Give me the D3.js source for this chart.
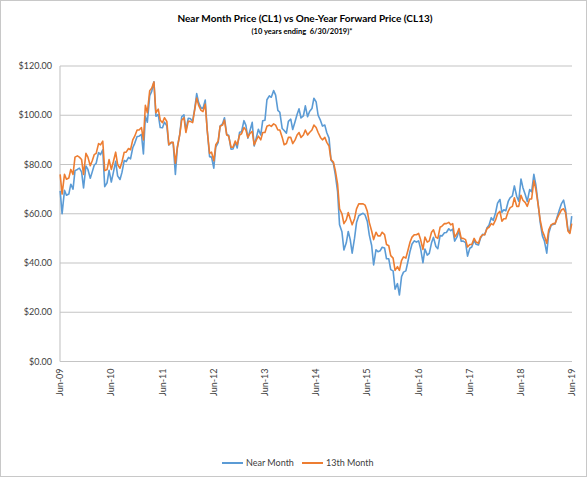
<!DOCTYPE html>
<html lang="en">
<head>
  <meta charset="UTF-8">
  <title>Near Month vs One-Year Forward</title>
  <style>
    body { margin: 0; background: #fff; }
    svg { display: block; font-family: Lato, "Open Sans", sans-serif; }
    .grid line { stroke: #c4c4c4; stroke-width: 1.1px; }
    .lbl { fill: #404040; font-size: 9px; }
  </style>
</head>
<body>
  <div id="chart"></div>

  <script src="https://cdn.jsdelivr.net/npm/d3@7"></script>
  <script>
    // half-monthly samples (1st and 15th), Jul-2009 .. Jun-2019, plus a final point at 6/28/2019
    const nearMonth = [
      // 2009 Jul-Dec
      69.3, 60.0, 69.5, 67.5, 68.0, 72.0, 70.0, 77.5, 78.0, 78.5, 77.0, 70.5,
      // 2010
      79.4, 78.0, 74.4, 77.0, 79.7, 80.5, 84.8, 84.0, 86.0, 71.0, 72.6, 77.6,
      72.9, 76.6, 81.3, 75.4, 73.9, 76.8, 81.6, 81.2, 82.9, 82.3, 86.8, 88.6,
      // 2011
      91.4, 91.5, 92.2, 84.3, 99.6, 97.2, 107.9, 109.7, 113.6, 99.6, 100.3, 95.0,
      94.9, 97.2, 95.7, 87.9, 88.9, 88.9, 76.0, 86.8, 92.2, 99.4, 100.2, 93.9,
      // 2012
      98.8, 98.7, 97.6, 102.3, 108.8, 105.1, 103.0, 102.8, 106.2, 93.9, 83.2, 83.0,
      78.5, 87.1, 88.9, 95.6, 96.5, 99.0, 92.2, 91.9, 86.2, 86.3, 88.9, 86.7,
      // 2013
      93.1, 93.3, 97.8, 95.9, 90.7, 93.5, 97.1, 87.5, 91.0, 94.3, 92.0, 97.8,
      98.0, 106.3, 107.9, 107.3, 110.0, 108.2, 102.0, 101.2, 94.6, 93.8, 92.7, 97.5,
      // 2014
      98.4, 94.2, 97.5, 100.3, 102.6, 98.9, 99.7, 103.8, 99.4, 101.5, 102.7, 106.9,
      105.4, 100.0, 97.9, 95.6, 96.0, 92.9, 90.7, 81.8, 80.5, 75.8, 69.0, 55.5,
      // 2015
      52.7, 45.3, 48.2, 52.8, 49.6, 44.0, 50.1, 56.4, 59.2, 59.7, 60.2, 59.5,
      56.9, 51.4, 47.1, 39.2, 45.4, 44.6, 45.0, 46.4, 46.1, 41.7, 41.7, 37.3,
      // 2016
      36.8, 29.4, 31.6, 27.0, 34.4, 36.3, 36.8, 40.4, 44.8, 47.7, 49.0, 48.5,
      49.0, 45.9, 40.1, 45.7, 43.2, 43.9, 48.2, 50.4, 46.7, 45.8, 51.1, 51.0,
      // 2017
      52.3, 52.4, 53.9, 53.1, 53.8, 48.9, 50.6, 53.2, 48.8, 48.9, 48.3, 42.8,
      46.0, 46.5, 49.2, 47.6, 47.3, 50.0, 51.7, 51.5, 54.3, 55.3, 58.4, 57.3,
      // 2018
      60.4, 64.3, 65.8, 60.6, 61.6, 61.2, 65.0, 66.5, 67.3, 71.3, 67.0, 65.1,
      74.1, 70.6, 67.7, 65.0, 69.8, 68.9, 76.0, 71.8, 63.7, 56.5, 51.0, 49.0,
      // 2019 Jan-Jun
      44.0, 52.1, 55.3, 55.6, 55.8, 58.5, 61.6, 64.0, 65.5, 61.8, 53.5, 52.5,
      59.0
    ];

    const thirteenthMonth = [
      // 2009 Jul-Dec
      76.0, 68.0, 76.0, 74.0, 74.5, 78.0, 76.0, 83.0, 83.5, 83.0, 82.0, 76.0,
      // 2010
      84.5, 83.0, 79.5, 81.5, 84.0, 84.5, 88.5, 88.0, 89.5, 77.5, 78.0, 82.0,
      78.0, 81.0, 85.0, 80.0, 78.5, 81.0, 85.0, 85.0, 86.5, 86.0, 90.0, 91.5,
      // 2011
      94.0, 94.0, 95.0, 90.0, 104.0, 101.0, 110.0, 111.0, 113.5, 101.0, 102.5, 98.0,
      97.0, 99.0, 97.5, 88.0, 89.0, 89.0, 80.5, 87.0, 92.0, 98.0, 99.0, 93.0,
      // 2012
      97.5, 97.5, 97.0, 102.0, 107.0, 104.0, 102.0, 101.5, 104.5, 94.0, 84.5, 85.0,
      81.5, 88.0, 89.5, 95.5, 96.0, 98.0, 92.0, 91.5, 87.0, 87.0, 89.5, 88.0,
      // 2013
      92.0, 92.5, 95.0, 94.0, 91.0, 92.5, 93.5, 88.0, 90.0, 91.5, 90.0, 93.0,
      93.0, 95.5, 96.0, 95.5, 96.5, 96.0, 94.0, 94.0, 91.0, 88.0, 88.5, 91.0,
      // 2014
      91.0, 88.5, 90.0, 92.0, 93.0, 91.0, 92.0, 94.0, 92.0, 93.0, 94.0, 96.0,
      95.0, 93.0, 91.0, 90.0, 91.0, 89.0, 87.5, 82.0, 81.0, 77.5, 72.0, 62.0,
      // 2015
      60.0, 56.0, 57.5, 60.5, 58.0, 55.5, 58.0, 62.0, 64.0, 64.0, 64.0, 63.5,
      61.0, 56.5, 53.0, 49.5, 52.5, 51.0, 51.0, 52.5, 51.5, 47.5, 47.0, 43.0,
      // 2016
      42.0, 37.0, 38.5, 37.0, 41.0, 42.5, 42.0, 45.0, 48.5, 50.5, 51.5, 51.5,
      52.0, 49.5, 45.5, 50.5, 48.5, 49.0, 52.5, 53.5, 50.5, 50.0, 54.5, 55.0,
      // 2017
      56.0, 56.0, 56.5, 55.5, 56.0, 50.5, 52.0, 54.0, 50.0, 50.0, 49.5, 46.5,
      47.5, 47.5, 50.0, 48.5, 48.0, 50.5, 51.5, 51.5, 54.0, 54.5, 56.0, 55.5,
      // 2018
      57.5, 60.0, 61.0, 57.0, 58.0, 58.0, 61.0, 62.5, 63.0, 66.5, 63.0, 63.0,
      67.5, 65.5, 64.5, 63.0, 66.0, 66.0, 73.5, 70.0, 63.5, 57.5, 53.0, 51.0,
      // 2019 Jan-Jun
      48.0, 53.5, 55.5, 56.0, 56.0, 58.0, 60.0, 61.5, 62.0, 60.5, 53.0, 52.0,
      56.0
    ];

    const yTicks = [0, 20, 40, 60, 80, 100, 120];
    const xTickYears = [2009, 2010, 2011, 2012, 2013, 2014, 2015, 2016, 2017, 2018, 2019];

    const seriesNames = ["Near Month", "13th Month"];
    const seriesColors = ["#5B9BD5", "#ED7D31"];

    // sample dates
    const dates = nearMonth.map((_, i) =>
      i < 240 ? new Date(2009, 6 + Math.floor(i / 2), i % 2 ? 15 : 1) : new Date(2019, 5, 28));

    const width = 587;
    const height = 477;
    const margin = { top: 66, right: 15, bottom: 115.5, left: 60 };

    const svg = d3.select("#chart")
      .append("svg")
      .attr("width", width)
      .attr("height", height);

    // outer border
    svg.append("rect")
      .attr("x", 0.5).attr("y", 0.5)
      .attr("width", width - 1).attr("height", height - 1)
      .attr("fill", "#fff")
      .attr("stroke", "#c8c8c8");

    const x = d3.scaleTime()
      .domain([new Date(2009, 5, 30), new Date(2019, 5, 30)])
      .range([margin.left, width - margin.right]);

    const y = d3.scaleLinear()
      .domain([0, 120])
      .range([height - margin.bottom, margin.top]);

    // gridlines
    svg.append("g")
      .attr("class", "grid")
      .selectAll("line")
      .data(yTicks)
      .join("line")
      .attr("x1", margin.left).attr("x2", width - margin.right)
      .attr("y1", d => y(d)).attr("y2", d => y(d));

    // y axis line
    svg.append("line")
      .attr("x1", margin.left).attr("x2", margin.left)
      .attr("y1", y(120)).attr("y2", y(0))
      .attr("stroke", "#c4c4c4").attr("stroke-width", 1.1);

    // y labels
    const fmt = d3.format(",.2f");
    svg.append("g")
      .selectAll("text")
      .data(yTicks)
      .join("text")
      .attr("class", "lbl")
      .attr("x", margin.left - 8)
      .attr("y", d => y(d))
      .attr("dy", "0.35em")
      .attr("text-anchor", "end")
      .text(d => "$" + fmt(d));

    // x labels (rotated)
    svg.append("g")
      .selectAll("text")
      .data(xTickYears)
      .join("text")
      .attr("class", "lbl")
      .attr("transform", d => `translate(${x(new Date(d, 5, 30))},${y(0) + 7}) rotate(-90)`)
      .attr("dy", "0.35em")
      .attr("text-anchor", "end")
      .text(d => "Jun-" + String(d).slice(2));

    // lines
    const line = d3.line()
      .x((d, i) => x(dates[i]))
      .y(d => y(d));

    [nearMonth, thirteenthMonth].forEach((vals, k) => {
      svg.append("path")
        .datum(vals)
        .attr("fill", "none")
        .attr("stroke", seriesColors[k])
        .attr("stroke-width", 1.6)
        .attr("stroke-linejoin", "round")
        .attr("d", line);
    });

    // title
    svg.append("text")
      .attr("x", 305).attr("y", 22)
      .attr("text-anchor", "middle")
      .attr("font-size", 10)
      .attr("font-weight", "bold")
      .attr("fill", "#000")
      .text("Near Month Price (CL1) vs One-Year Forward Price (CL13)");

    svg.append("text")
      .attr("x", 302).attr("y", 34)
      .attr("text-anchor", "middle")
      .attr("font-size", 7.5)
      .attr("font-weight", "bold")
      .attr("fill", "#000")
      .attr("xml:space", "preserve")
      .style("white-space", "pre")
      .text("(10 years ending  6/30/2019)*");

    // legend
    const legendX = [222, 302];
    const legend = svg.append("g");
    seriesNames.forEach((name, k) => {
      legend.append("line")
        .attr("x1", legendX[k]).attr("x2", legendX[k] + 21)
        .attr("y1", 463).attr("y2", 463)
        .attr("stroke", seriesColors[k])
        .attr("stroke-width", 2);
      legend.append("text")
        .attr("class", "lbl")
        .attr("x", legendX[k] + 24)
        .attr("y", 463)
        .attr("dy", "0.35em")
        .text(name);
    });
  </script>
</body>
</html>
